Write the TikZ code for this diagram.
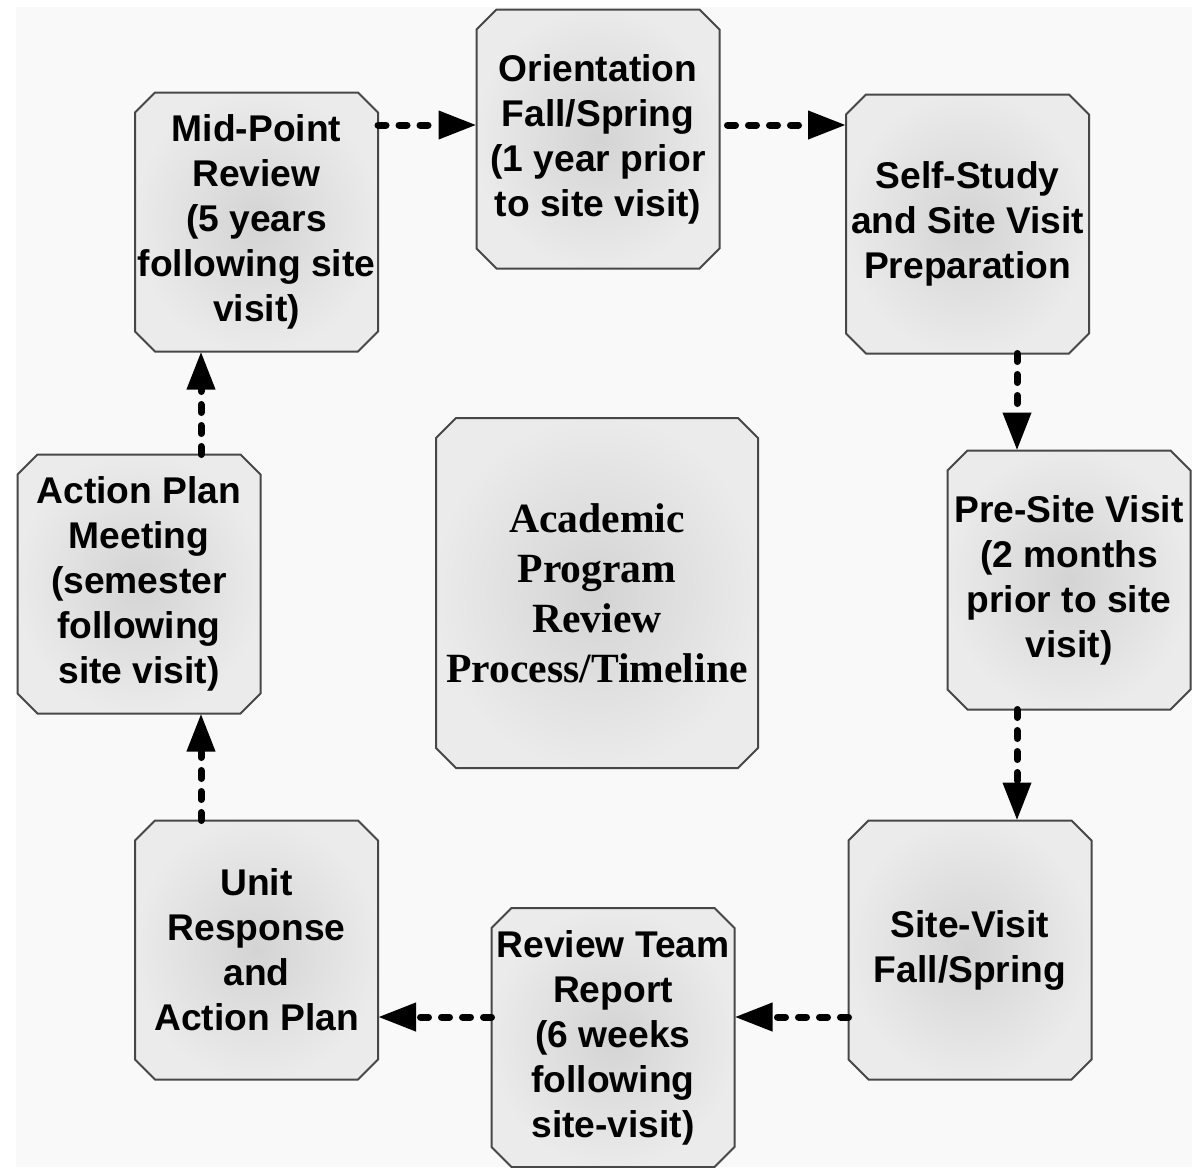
\documentclass[tikz,border=0pt]{standalone}
\usepackage{fontspec}
\setmainfont{Liberation Sans}
\newfontfamily\titlefont{Liberation Serif}
\usepackage{tikz}
\usetikzlibrary{arrows.meta}
\pgfdeclarelayer{background}
\pgfsetlayers{background,main}
\tikzset{
x=0.5pt, y=-0.5pt, % one unit is one pixel of the layout
stage/.style={rectangle, minimum width=121.5pt, minimum height=129.5pt,
  inner sep=0pt, outer sep=0pt,
  align=center, font=\bfseries\fontsize{18.6}{22.5}\selectfont},
plate/.style={draw=black!72, line width=1pt,
  inner color=black!17, outer color=black!8}, % soft grey centre
flow/.style={line width=3.5pt, dash pattern=on 4pt off 6.5pt, line cap=round,
  -{Triangle[length=19pt,width=13.5pt]}}, % dotted arrows with big heads
}
\begin{document}
\begin{tikzpicture}
    \useasboundingbox (0,0) rectangle (1192,1167);

    \node[stage] (mid) at (256.5,222) {Mid-Point\\Review\\(5 years\\following site\\visit)};
    \node[stage] (orient) at (598,139) {Orientation\\Fall/Spring\\(1 year prior\\to site visit)};
    \node[stage] (study) at (967.5,224) {Self-Study\\and Site Visit\\Preparation};
    \node[stage] (presite) at (1069,580) {Pre-Site Visit\\(2 months\\prior to site\\visit)};
    \node[stage] (visit) at (970,950) {Site-Visit\\Fall/Spring};
    \node[stage] (report) at (613,1037.5) {Review Team\\Report\\(6 weeks\\following\\site-visit)};
    \node[stage] (response) at (256.5,950) {Unit\\Response\\and\\Action Plan};
    \node[stage] (action) at (139,584) {Action Plan\\Meeting\\(semester\\following\\site visit)};
    \node[stage, minimum width=161pt, minimum height=175pt,
      font=\titlefont\bfseries\fontsize{20.8}{25}\selectfont] (title) at (597,593)
      {Academic\\Program\\Review\\Process/Timeline};

    % cut-corner plates behind the texts
    \begin{pgfonlayer}{background}
        \fill[black!2.5] (16,7) rectangle (1192,1167);
        \foreach \n in {mid,orient,study,presite,visit,report,response,action,title}
            \shadedraw[plate] ([xshift=10pt]\n.north west) -- ([xshift=-10pt]\n.north east)
                -- ([yshift=-10pt]\n.north east) -- ([yshift=10pt]\n.south east)
                -- ([xshift=-10pt]\n.south east) -- ([xshift=10pt]\n.south west)
                -- ([yshift=10pt]\n.south west) -- ([yshift=-10pt]\n.north west) -- cycle;
    \end{pgfonlayer}

    \draw[flow] (mid.east |- 0,125) -- (orient.west |- 0,125);
    \draw[flow, shorten <=4pt] (orient.east |- 0,125) -- (study.west |- 0,125);
    \draw[flow] (study.south -| 1017,0) -- (presite.north -| 1017,0);
    \draw[flow] (presite.south -| 1017,0) -- (visit.north -| 1017,0);
    \draw[flow] (visit.west |- 0,1017) -- (report.east |- 0,1017);
    \draw[flow] (report.west |- 0,1017) -- (response.east |- 0,1017);
    \draw[flow] (response.north -| 201,0) -- (action.south -| 201,0);
    \draw[flow] (action.north -| 201,0) -- (mid.south -| 201,0);
\end{tikzpicture}
\end{document}
